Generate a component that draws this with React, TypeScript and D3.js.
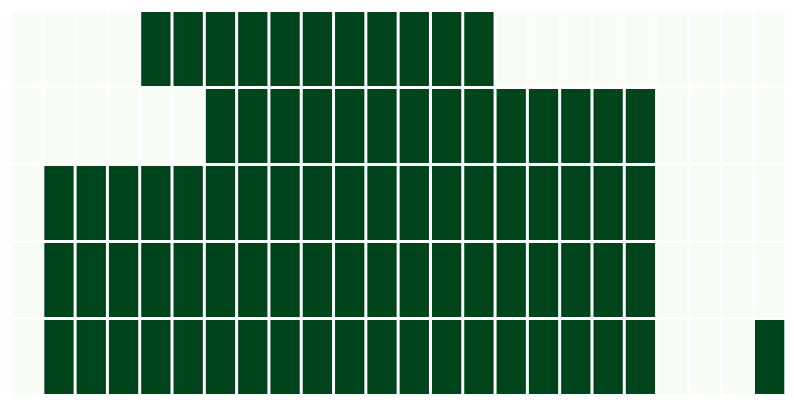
import React from 'react';
import * as d3 from 'd3';

const width = 794;
const height = 405;

// 24 columns (hours) x 5 rows
const hours = d3.range(24).map(h => String(h));
const rows = ['r0', 'r1', 'r2', 'r3', 'r4'];

const row0 = [0, 0, 0, 0, 1, 1, 1, 1, 1, 1, 1, 1, 1, 1, 1, 0, 0, 0, 0, 0, 0, 0, 0, 0];
const row1 = [0, 0, 0, 0, 0, 0, 1, 1, 1, 1, 1, 1, 1, 1, 1, 1, 1, 1, 1, 1, 0, 0, 0, 0];
const row2 = [0, 1, 1, 1, 1, 1, 1, 1, 1, 1, 1, 1, 1, 1, 1, 1, 1, 1, 1, 1, 0, 0, 0, 0];
const row3 = [0, 1, 1, 1, 1, 1, 1, 1, 1, 1, 1, 1, 1, 1, 1, 1, 1, 1, 1, 1, 0, 0, 0, 0];
const row4 = [0, 1, 1, 1, 1, 1, 1, 1, 1, 1, 1, 1, 1, 1, 1, 1, 1, 1, 1, 1, 0, 0, 0, 1];

const values = [row0, row1, row2, row3, row4];

export default function App() {
  const x = d3.scaleBand<string>().domain(hours).range([12, 787.3]);
  const y = d3.scaleBand<string>().domain(rows).range([12, 397]);
  const color = d3.scaleSequential(d3.interpolateGreens).domain([0, 1]);

  const cells = values.flatMap((row, i) =>
    row.map((v, j) => ({ row: rows[i], col: hours[j], v }))
  );

  return (
    <svg
      width={width}
      height={height}
      style={{ position: 'absolute', left: 0, top: 0, background: '#fff' }}
    >
      {cells.map((d, i) => (
        <rect
          key={i}
          x={x(d.col)}
          y={y(d.row)}
          width={x.bandwidth() - 3}
          height={y.bandwidth() - 3}
          fill={color(d.v)}
        />
      ))}
    </svg>
  );
}
